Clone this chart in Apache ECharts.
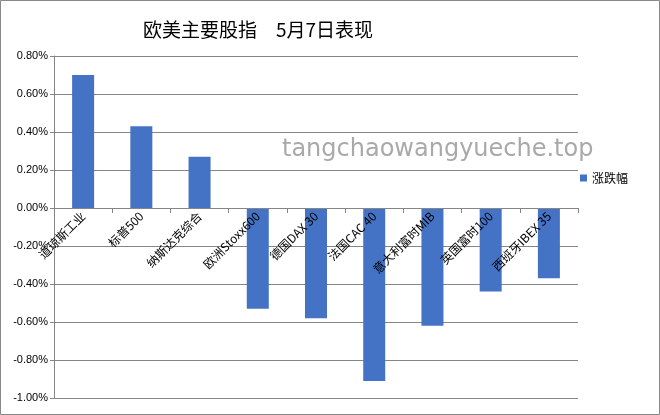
<!DOCTYPE html>
<html><head><meta charset="utf-8">
<script src="https://cdn.jsdelivr.net/npm/echarts@6/dist/echarts.min.js"></script>
<style>html,body{margin:0;padding:0;background:#fff}#c{width:660px;height:415px}</style>
</head><body><div id="c"></div>
<script>
const categories = ['道琼斯工业','标普500','纳斯达克综合','欧洲Stoxx600','德国DAX 30','法国CAC 40','意大利富时MIB','英国富时100','西班牙IBEX 35'];
const changePct = [0.70, 0.43, 0.27, -0.53, -0.58, -0.91, -0.62, -0.44, -0.37];
const seriesName = '涨跌幅';
const titleText = '欧美主要股指　5月7日表现';
const watermark = 'tangchaowangyueche.top';
const yMin = -1.0, yMax = 0.8;

const gridTop = 56, gridBottom = 17, chartH = 415;
const plotH = chartH - gridTop - gridBottom;
// lift the category axis (line, ticks, labels) from the bottom edge up to the zero line
const zeroOffset = -plotH * (0 - yMin) / (yMax - yMin);

const chart = echarts.init(document.getElementById('c'));
chart.setOption({
  animation: false,
  backgroundColor: '#fff',
  title: {
    text: titleText, left: 138, top: 15,
    textStyle: {fontFamily: 'Noto Sans CJK SC', fontSize: 19, fontWeight: 'normal', color: '#000'}
  },
  legend: {
    data: [seriesName], left: 575, top: 167, itemWidth: 7, itemHeight: 7, itemGap: 5,
    icon: 'rect',
    textStyle: {fontFamily: 'Noto Sans CJK SC', fontSize: 12, color: '#000'}
  },
  graphic: [
    {type: 'rect', shape: {x: 0.5, y: 0.5, width: 659, height: 414}, style: {fill: 'none', stroke: '#888', lineWidth: 1}, silent: true},
    {type: 'text', left: 282, top: 138, z: 10, style: {text: watermark, fontFamily: 'DejaVu Sans', fontSize: 24, fill: '#a9a9a9'}}
  ],
  grid: {left: 54, right: 82, top: gridTop, bottom: gridBottom, containLabel: false, outerBoundsMode: 'none'},
  xAxis: {
    type: 'category', data: categories, z: 5,
    offset: zeroOffset,
    axisLine: {onZero: false, lineStyle: {color: '#868686'}},
    axisTick: {show: true, alignWithLabel: false, lineStyle: {color: '#868686'}},
    axisLabel: {rotate: 45, interval: 0, margin: 6, fontFamily: 'Noto Sans CJK SC', fontSize: 12, color: '#000'}
  },
  yAxis: {
    type: 'value', min: yMin, max: yMax, interval: 0.2,
    axisLine: {show: true, lineStyle: {color: '#868686'}},
    axisTick: {show: true, length: 4, lineStyle: {color: '#868686'}},
    splitLine: {lineStyle: {color: '#868686'}},
    axisLabel: {formatter: v => v.toFixed(2) + '%', fontFamily: 'Liberation Sans', fontSize: 11, color: '#000', margin: 6}
  },
  series: [{
    name: seriesName, type: 'bar', data: changePct, barWidth: 22, z: 2,
    itemStyle: {color: '#4472C4'}
  }]
});
</script></body></html>
